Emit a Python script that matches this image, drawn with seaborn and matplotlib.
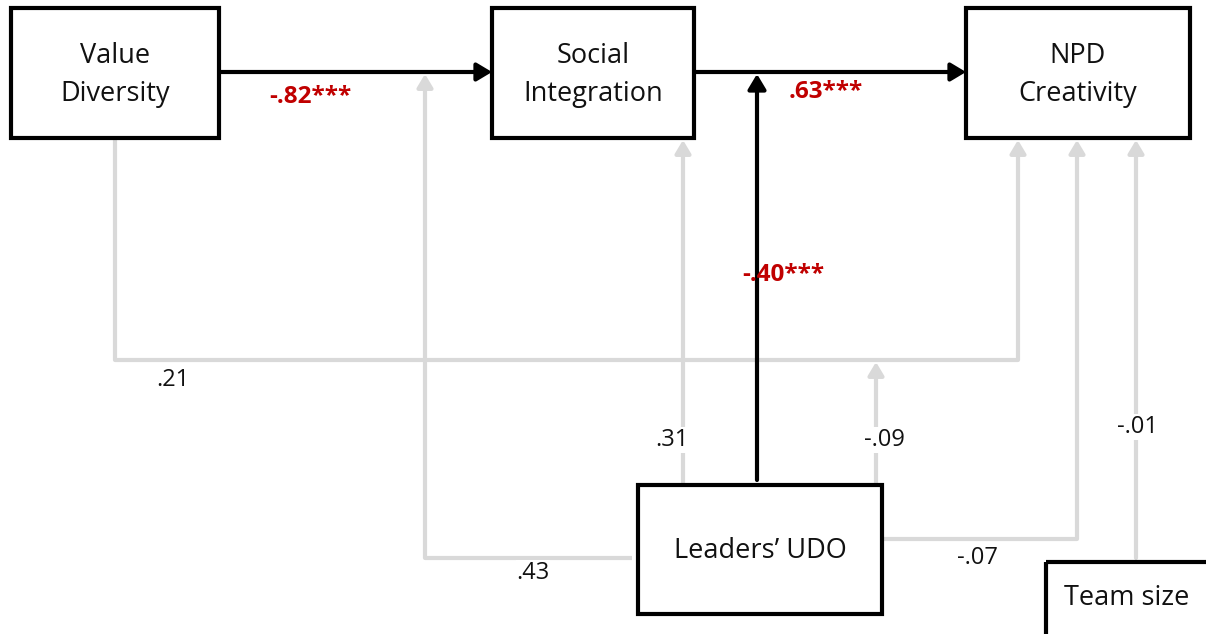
import matplotlib.pyplot as plt
import seaborn as sns
from matplotlib.patches import Rectangle

sns.set_theme(style="white")
plt.rcParams['font.family'] = ['Open Sans', 'DejaVu Sans']

# nodes of the path model
node_names = ["Value\nDiversity", "Social\nIntegration", "NPD\nCreativity", "Leaders’ UDO", "Team size"]
# path coefficients (significant ones in red)
sig_labels = ["-.82***", ".63***", "-.40***"]
ns_labels = [".21", ".31", "-.09", "-.01", "-.07", ".43"]

BLACK = "#000000"
GRAY = "#d9d9d9"
RED = "#c00000"

# box layout in pixel space: (x0, y0, x1, y1)
boxes = [(11, 8, 219, 138), (492, 8, 694, 138), (966, 8, 1190, 138),
         (638, 485, 882, 614), (1046, 562, 1215, 645)]

fig, ax = plt.subplots(figsize=(12.06, 6.34), dpi=100)
fig.subplots_adjust(0, 0, 1, 1)
ax.set_xlim(0, 1206)
ax.set_ylim(634, 0)
ax.axis("off")

for (x0, y0, x1, y1), name in zip(boxes, node_names):
    ax.add_patch(Rectangle((x0, y0), x1 - x0, y1 - y0, fill=False, ec=BLACK, lw=3, zorder=3))
    cx = (x0 + x1) / 2 if name != "Team size" else 1127
    cy = (y0 + y1) / 2 + 2 if name != "Team size" else 598
    ax.text(cx, cy, name, ha="center", va="center", fontsize=19.5, color="#111111",
            linespacing=1.45, zorder=4)


def path(pts, color, head=12):
    xs = [p[0] for p in pts]
    ys = [p[1] for p in pts]
    ax.plot(xs[:-1], ys[:-1], color=color, lw=3, solid_capstyle="butt", zorder=2)
    ax.annotate("", xy=pts[-1], xytext=pts[-2],
                arrowprops=dict(arrowstyle=f"-|>,head_length={head/10*0.5},head_width={head/10*0.3}",
                                color=color, lw=3, shrinkA=0, shrinkB=0), zorder=2)


# gray (non-significant) paths
path([(115, 140), (115, 360), (1018, 360), (1018, 140)], GRAY, head=13)
path([(632, 558), (425, 558), (425, 74)], GRAY, head=13)
path([(683, 485), (683, 140)], GRAY, head=13)
path([(876, 485), (876, 362)], GRAY, head=13)
path([(882, 539), (1077, 539), (1077, 140)], GRAY, head=13)
path([(1136, 558), (1136, 140)], GRAY, head=13)

# black (significant) paths
path([(219, 72), (492, 72)], BLACK, head=15)
path([(694, 72), (966, 72)], BLACK, head=15)
path([(757, 480), (757, 74)], BLACK, head=15)

sig_pos = [(310, 97), (826, 92), (783, 275)]
for (x, y), t in zip(sig_pos, sig_labels):
    ax.text(x, y, t, ha="center", va="center", fontsize=17.5, fontweight="bold", color=RED, zorder=5)

ns_pos = [(173, 380), (672, 440), (884, 440), (1137, 427), (977, 558), (533, 573)]
for (x, y), t in zip(ns_pos, ns_labels):
    ax.text(x, y, t, ha="center", va="center", fontsize=17, color="#111111", zorder=5,
            bbox=dict(fc="white", ec="none", pad=0.5))

fig.savefig("out.png", dpi=100)
